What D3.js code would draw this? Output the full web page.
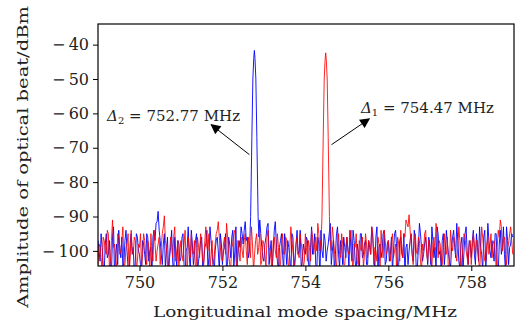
<!DOCTYPE html>
<html>
<head>
<meta charset="utf-8">
<script src="https://cdn.jsdelivr.net/npm/d3@7"></script>
<style>
  body { margin: 0; background: #fff; }
  svg { display: block; }
  text { font-family: "DejaVu Serif", serif; fill: #222; }
</style>
</head>
<body>
<svg id="chart" width="516" height="323"></svg>
<script>
// beat spectra of two lasers: noise floor sampled every 0.05 MHz from 749 MHz
// (plus a second set at the half steps), and the two beat-note peaks
const noiseStart = 749;
const noiseStep = 0.05;

const blueNoise = [
  -97, -103, -99, -106, -95, -101, -104, -96, -108, -98,
  -94, -102, -105, -97, -100, -107, -95, -99, -103, -96,
  -101, -106, -98, -104, -96, -100, -107, -94, -92, -88.5,
  -97, -104, -95, -100, -106, -99, -103, -96, -105, -98,
  -102, -95, -107, -99, -101, -94, -104, -97, -106, -100,
  -96, -103, -98, -105, -93, -101, -107, -97, -100, -95,
  -104, -99, -106, -96, -102, -94, -100, -105, -97, -93,
  -98, -91.5, -96, -100, -95, -96, -96, -94, -91, -99,
  -103, -96, -92, -100, -105, -94, -98, -106, -97, -101,
  -95, -104, -99, -107, -96, -102, -94, -100, -105, -98,
  -101, -97, -106, -93, -99, -104, -96, -108, -100, -95,
  -103, -98, -92, -100, -106, -95, -101, -97, -104, -99,
  -96, -105, -100, -94, -103, -98, -107, -95, -101, -97,
  -104, -99, -93, -102, -96, -106, -98, -100, -94, -103,
  -97, -101, -106, -95, -99, -104, -96, -102, -107, -98,
  -100, -95, -103, -97, -105, -92, -99, -101, -96, -104,
  -98, -93, -102, -106, -95, -100, -97, -104, -94, -101,
  -105, -96, -99, -92, -103, -98, -106, -95, -100, -97,
  -102, -94, -104, -99, -93, -101, -96, -105, -92, -100,
  -97, -103, -95, -106, -94, -99, -101, -93, -104, -98,
  -96
];

// blue samples at 749.025, 749.075, ... 758.975
const blueNoiseMid = [
  -100, -95, -104, -98, -102, -97, -106, -93, -101, -104,
  -99, -96, -103, -94, -105, -98, -101, -107, -95, -100,
  -104, -97, -101, -95, -103, -99, -96, -97, -91.5, -94,
  -101, -98, -105, -96, -102, -94, -107, -100, -97, -103,
  -96, -104, -100, -93, -106, -98, -101, -95, -103, -97,
  -105, -99, -94, -102, -97, -104, -100, -96, -106, -98,
  -100, -95, -103, -98, -96, -105, -93, -101, -99, -95,
  -94, -97, -102, -96, -96, -96, -96, -96, -95, -102,
  -98, -93, -104, -97, -100, -91.5, -103, -99, -95, -106,
  -99, -97, -102, -95, -105, -98, -101, -94, -103, -100,
  -96, -104, -99, -101, -95, -106, -98, -94, -102, -97,
  -100, -95, -104, -97, -101, -93, -105, -99, -96, -102,
  -99, -94, -103, -97, -106, -100, -95, -102, -98, -104,
  -97, -101, -96, -105, -93, -99, -102, -95, -104, -98,
  -103, -96, -100, -94, -105, -97, -101, -95, -99, -104,
  -97, -101, -94, -106, -99, -95, -103, -98, -100, -96,
  -104, -97, -99, -93, -101, -106, -95, -100, -98, -103,
  -99, -94, -102, -97, -105, -96, -100, -93, -104, -98,
  -97, -101, -95, -103, -99, -106, -94, -100, -97, -102,
  -100, -95, -104, -98, -101, -93, -106, -97, -99, -95
];

const redNoise = [
  -104, -99, -106, -97, -101, -95, -103, -91, -98, -105,
  -96, -100, -93, -104, -98, -107, -94, -101, -97, -103,
  -99, -105, -95, -102, -97, -106, -100, -94, -103, -98,
  -104, -95, -89.8, -99, -106, -96, -102, -93, -100, -105,
  -97, -103, -94, -108, -99, -95, -101, -106, -96, -102,
  -98, -104, -93, -100, -106, -97, -102, -95, -91.5, -99,
  -103, -96, -92, -101, -105, -98, -94, -107, -100, -96,
  -102, -95, -104, -99, -93, -106, -97, -101, -95, -103,
  -98, -105, -94, -100, -107, -96, -102, -99, -104, -95,
  -101, -97, -106, -93, -100, -104, -96, -102, -98, -105,
  -95, -103, -99, -94, -101, -96, -92, -100, -96, -96,
  -96, -96, -97, -93, -100, -105, -95, -102, -98, -104,
  -96, -101, -94, -106, -99, -103, -97, -100, -105, -95,
  -102, -98, -93, -104, -100, -96, -107, -99, -94, -101,
  -97, -103, -95, -100, -106, -98, -94, -102, -96, -92,
  -89.5, -98, -104, -95, -101, -97, -106, -100, -94, -103,
  -99, -105, -96, -92, -102, -98, -104, -95, -101, -107,
  -94, -100, -97, -103, -93, -106, -99, -96, -102, -98,
  -104, -95, -101, -97, -106, -93, -100, -103, -96, -99,
  -102, -97, -105, -94, -91, -100, -96, -104, -98, -93,
  -101
];

// red samples at the half steps
const redNoiseMid = [
  -98, -102, -96, -100, -94, -105, -97, -99, -103, -95,
  -101, -97, -104, -99, -95, -102, -100, -96, -106, -98,
  -95, -101, -97, -104, -99, -95, -103, -98, -100, -96,
  -99, -93, -97, -104, -101, -98, -96, -103, -97, -100,
  -101, -98, -104, -96, -102, -100, -97, -103, -99, -95,
  -103, -97, -99, -95, -101, -104, -98, -94, -96, -102,
  -98, -101, -96, -104, -99, -95, -102, -97, -103, -100,
  -97, -100, -96, -102, -98, -101, -95, -99, -104, -97,
  -101, -96, -99, -103, -97, -100, -95, -105, -98, -101,
  -96, -102, -99, -97, -104, -98, -101, -95, -100, -103,
  -99, -97, -103, -96, -98, -100, -95, -97, -96, -96,
  -96, -96, -100, -96, -103, -98, -101, -95, -104, -99,
  -100, -97, -102, -98, -95, -104, -99, -96, -101, -98,
  -97, -101, -95, -99, -103, -98, -94, -102, -97, -100,
  -100, -97, -102, -98, -96, -103, -99, -95, -91, -93,
  -94, -101, -97, -100, -96, -103, -98, -95, -101, -97,
  -102, -98, -100, -95, -97, -103, -99, -101, -96, -104,
  -98, -96, -101, -99, -97, -102, -95, -100, -104, -97,
  -99, -98, -97, -102, -100, -96, -103, -98, -101, -95,
  -98, -100, -99, -96, -93, -97, -101, -99, -95, -97
];

// peak shapes (MHz, dBm)
const bluePeakX = [752.66, 752.68, 752.71, 752.734, 752.755, 752.77, 752.785, 752.806, 752.83, 752.86, 752.88];
const bluePeakY = [-97, -90, -67, -50, -44, -41.7, -44, -50, -67, -90, -96];
const redPeakX = [754.38, 754.40, 754.43, 754.454, 754.475, 754.49, 754.505, 754.526, 754.55, 754.58, 754.59];
const redPeakY = [-98, -90, -67, -50, -44.5, -42.4, -44.5, -50, -67, -90, -97];

const xTicks = [750, 752, 754, 756, 758];
const yTicks = [-40, -50, -60, -70, -80, -90, -100];

// annotation anchors in data units: [text x, text y, arrow tail x, tail y, head x, head y]
const blueNote = { label: "752.77", at: [749.22, -62.1, 752.65, -72, 751.73, -63.3] };
const redNote = { label: "754.47", at: [755.34, -59.9, 754.63, -69.1, 755.54, -61.6] };

// merge noise floor (both sample sets) and peak into one sorted series
function buildSeries(noise, mid, px, py) {
  const lo = d3.min(px), hi = d3.max(px);
  const pts = noise.map((v, i) => ({ x: noiseStart + i * noiseStep, y: v }))
    .concat(mid.map((v, i) => ({ x: noiseStart + (i + 0.5) * noiseStep, y: v })))
    .filter(d => d.x < lo || d.x > hi);
  px.forEach((x, i) => pts.push({ x: x, y: py[i] }));
  return pts.sort((a, b) => a.x - b.x);
}

const blueData = buildSeries(blueNoise, blueNoiseMid, bluePeakX, bluePeakY);
const redData = buildSeries(redNoise, redNoiseMid, redPeakX, redPeakY);

const margin = { top: 24, right: 2, bottom: 57, left: 98 };
const fullW = 516, fullH = 323;
const width = fullW - margin.left - margin.right;
const height = fullH - margin.top - margin.bottom;

const svg = d3.select('#chart');

const g = svg.append('g')
  .attr('transform', `translate(${margin.left},${margin.top})`);

const x = d3.scaleLinear().domain([749, 759.03]).range([0, width]);
const y = d3.scaleLinear().domain([-104.4, -34]).range([height, 0]);

g.append('clipPath').attr('id', 'plot-clip')
  .append('rect').attr('width', width).attr('height', height);

const line = d3.line().x(d => x(d.x)).y(d => y(d.y));

const lines = g.append('g').attr('clip-path', 'url(#plot-clip)');
lines.append('path').datum(blueData)
  .attr('d', line).attr('fill', 'none')
  .attr('stroke', '#0000ff').attr('stroke-width', 1).attr('stroke-opacity', 0.9);
lines.append('path').datum(redData)
  .attr('d', line).attr('fill', 'none')
  .attr('stroke', '#ff0000').attr('stroke-width', 1).attr('stroke-opacity', 0.85);

// axes, minus sign set off by a thin space like the tex labels
const fmt = d => (d < 0 ? '\u2212\u2009' + Math.abs(d) : String(d));

const xAxis = g.append('g')
  .attr('transform', `translate(0,${height})`)
  .call(d3.axisBottom(x).tickValues(xTicks).tickSize(5).tickPadding(6).tickFormat(fmt));

const yAxis = g.append('g')
  .call(d3.axisLeft(y).tickValues(yTicks).tickSize(5).tickPadding(4).tickFormat(fmt));

[xAxis, yAxis].forEach(a => {
  a.select('.domain').remove();
  a.selectAll('line').attr('stroke', '#000').attr('stroke-width', 1);
  a.selectAll('text').attr('font-family', '"DejaVu Serif", serif')
    .attr('font-size', 16).attr('fill', '#222');
});

// frame
g.append('rect')
  .attr('width', width).attr('height', height)
  .attr('fill', 'none').attr('stroke', '#000').attr('stroke-width', 1.2);

// axis titles, stretched to the width they take in the picture
svg.append('text')
  .attr('x', 305).attr('y', 317)
  .attr('text-anchor', 'middle').attr('font-size', 15)
  .attr('textLength', 304).attr('lengthAdjust', 'spacingAndGlyphs')
  .text('Longitudinal mode spacing/MHz');

svg.append('text')
  .attr('transform', 'translate(28,157) rotate(-90)')
  .attr('text-anchor', 'middle').attr('font-size', 15)
  .attr('textLength', 302).attr('lengthAdjust', 'spacingAndGlyphs')
  .text('Amplitude of optical beat/dBm');

// annotations with arrows
svg.append('defs').append('marker')
  .attr('id', 'head').attr('viewBox', '0 0 10 10')
  .attr('refX', 9).attr('refY', 5)
  .attr('markerWidth', 11).attr('markerHeight', 10)
  .attr('markerUnits', 'userSpaceOnUse')
  .attr('orient', 'auto')
  .append('path').attr('d', 'M0,0 L10,5 L0,10 Z').attr('fill', '#000');

function note(n, sub) {
  const a = n.at;
  const t = g.append('text')
    .attr('x', x(a[0])).attr('y', y(a[1]))
    .attr('font-size', 15);
  t.append('tspan').attr('font-style', 'italic').text('\u0394');
  t.append('tspan').attr('font-size', 10).attr('dy', 3).text(sub);
  t.append('tspan').attr('dy', -3).text(' = ' + n.label + ' MHz');

  g.append('line')
    .attr('x1', x(a[2])).attr('y1', y(a[3]))
    .attr('x2', x(a[4])).attr('y2', y(a[5]))
    .attr('stroke', '#000').attr('stroke-width', 1)
    .attr('marker-end', 'url(#head)');
}

note(blueNote, '2');
note(redNote, '1');
</script>
</body>
</html>
